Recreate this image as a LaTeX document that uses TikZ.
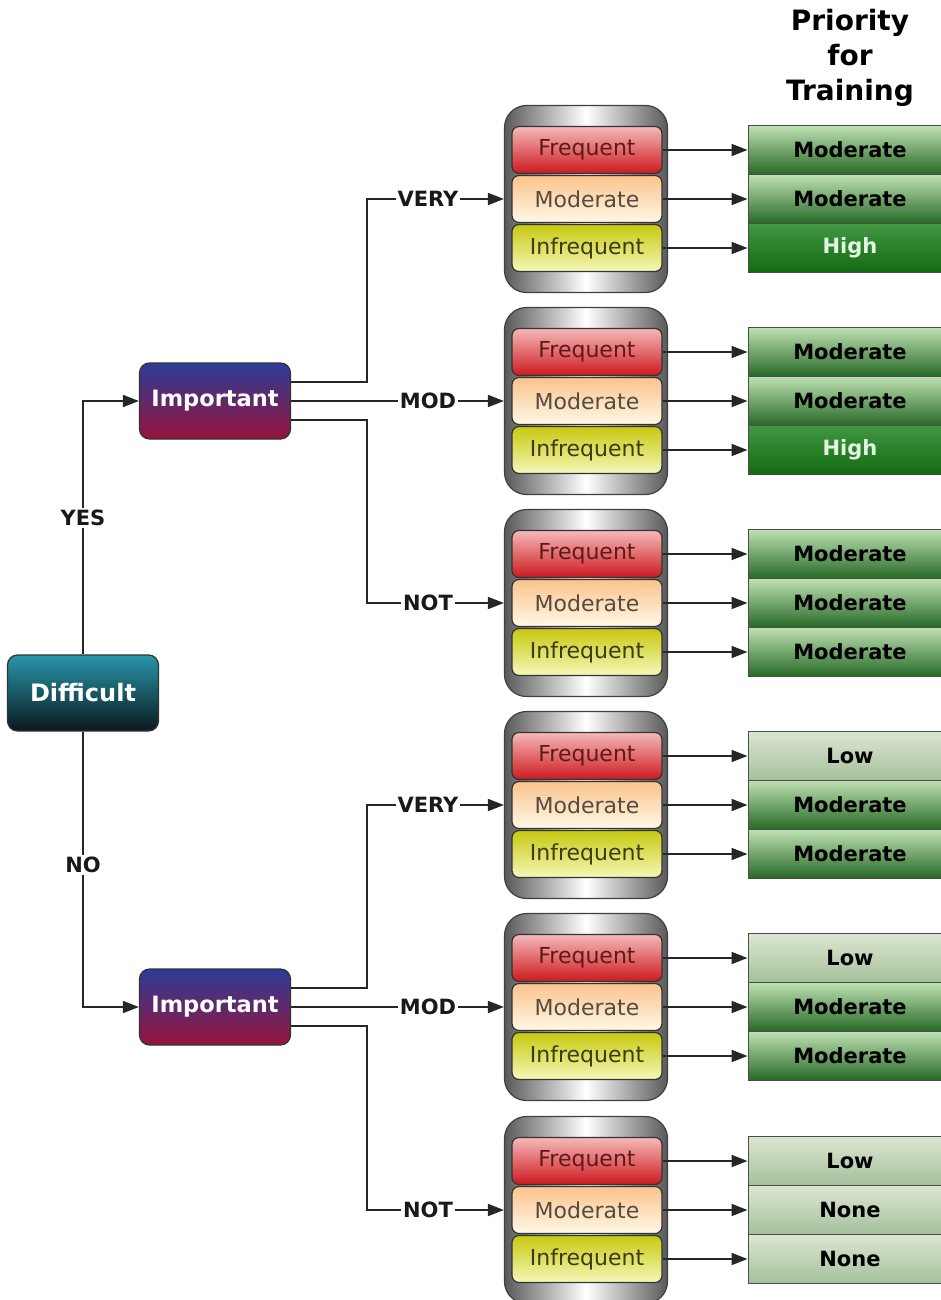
\documentclass[tikz,border=0pt]{standalone}
\usepackage{fontspec}
\setmainfont{DejaVu Sans}
\usetikzlibrary{arrows.meta}
\definecolor{fqTop}{RGB}{245,185,185}
\definecolor{fqBot}{RGB}{205,25,30}
\definecolor{fqTxt}{RGB}{95,25,25}
\definecolor{mdTop}{RGB}{250,195,140}
\definecolor{mdBot}{RGB}{255,248,230}
\definecolor{mdTxt}{RGB}{85,75,65}
\definecolor{ifTop}{RGB}{200,200,15}
\definecolor{ifBot}{RGB}{245,248,185}
\definecolor{ifTxt}{RGB}{60,60,20}
\definecolor{gMTop}{RGB}{190,225,178}
\definecolor{gMBot}{RGB}{38,105,38}
\definecolor{gH}{RGB}{20,125,20}
\definecolor{gHTxt}{RGB}{225,245,225}
\definecolor{gLTop}{RGB}{220,230,210}
\definecolor{gLBot}{RGB}{165,192,155}
\definecolor{dfTop}{RGB}{40,150,170}
\definecolor{dfBot}{RGB}{10,25,30}
\definecolor{imTop}{RGB}{45,60,150}
\definecolor{imBot}{RGB}{150,20,60}
\tikzset{
  conn/.style={draw=black!85, line width=1.8pt},
  arr/.style={conn, -{Triangle[length=16pt,width=12pt]}},
  lab/.style={font=\bfseries\fontsize{21}{24}\selectfont, inner sep=1.5pt, text=black!90},
  big/.style={draw=black!80, line width=1.2pt, rounded corners=10pt, minimum width=151pt, minimum height=76pt, inner sep=0pt, text=white},
  diff/.style={big, top color=dfTop, bottom color=dfBot, font=\bfseries\fontsize{24}{28}\selectfont},
  imp/.style={big, top color=imTop, bottom color=imBot, font=\bfseries\fontsize{22.5}{26}\selectfont},
  outerbox/.style={draw=black!75, line width=1.2pt, rounded corners=22pt, minimum width=163pt, minimum height=187pt, inner sep=0pt, left color=black!65, right color=black!65, middle color=white},
  item/.style={draw=black!80, line width=1.2pt, rounded corners=7pt, minimum width=150pt, minimum height=47pt, inner sep=0pt, font=\fontsize{22}{24}\selectfont},
  freq/.style={item, top color=fqTop, bottom color=fqBot, text=fqTxt},
  mode/.style={item, top color=mdTop, bottom color=mdBot, text=mdTxt},
  infr/.style={item, top color=ifTop, bottom color=ifBot, text=ifTxt},
  res/.style={draw=black!70, line width=1pt, minimum width=204pt, minimum height=49pt, inner sep=0pt, font=\bfseries\fontsize{21}{24}\selectfont},
  resM/.style={res, top color=gMTop, bottom color=gMBot, text=black},
  resH/.style={res, top color=gH!80!white, bottom color=gH!85!black, text=gHTxt},
  resL/.style={res, top color=gLTop, bottom color=gLBot, text=black},
}
\begin{document}
\begin{tikzpicture}[x=1pt,y=-1pt]
\useasboundingbox[fill=white] (0,0) rectangle (941,1300);
\node[font=\bfseries\fontsize{28}{35}\selectfont, align=center] (title) at (850,58) {Priority\\for\\Training};
\node[diff] (dif) at (83,693) {Difficult};
\node[imp] (imp1) at (215,401) {Important};
\node[imp] (imp2) at (215,1007) {Important};
\node[lab] (yes) at (83,518) {YES};
\node[lab] (no) at (83,865) {NO};
\draw[conn] (dif.north) -- (yes.south);
\draw[arr] (yes.north) |- (imp1.west);
\draw[conn] (dif.south) -- (no.north);
\draw[arr] (no.south) |- (imp2.west);
\foreach \g/\yc/\lb/\sa/\ta/\sb/\tb/\sc/\tc in {
  1/199/VERY/resM/Moderate/resM/Moderate/resH/High,
  2/401/MOD/resM/Moderate/resM/Moderate/resH/High,
  3/603/NOT/resM/Moderate/resM/Moderate/resM/Moderate,
  4/805/VERY/resL/Low/resM/Moderate/resM/Moderate,
  5/1007/MOD/resL/Low/resM/Moderate/resM/Moderate,
  6/1210/NOT/resL/Low/resL/None/resL/None}{
  \node[outerbox] (g\g) at (586,\yc) {};
  \node[freq] (f\g) at (587,\yc-49) {Frequent};
  \node[mode] (m\g) at (587,\yc) {Moderate};
  \node[infr] (i\g) at (587,\yc+49) {Infrequent};
  \node[\sa] (ra\g) at (850,\yc-49) {\ta};
  \node[\sb] (rb\g) at (850,\yc) {\tb};
  \node[\sc] (rc\g) at (850,\yc+49) {\tc};
  \node[lab] (L\g) at (428,\yc) {\lb};
  \draw[arr] (L\g.east) -- (g\g.west);
  \draw[arr] (f\g.east) -- (ra\g.west);
  \draw[arr] (m\g.east) -- (rb\g.west);
  \draw[arr] (i\g.east) -- (rc\g.west);
}
\draw[conn] ([yshift=19pt]imp1.east) -- ++(76,0) |- (L1.west);
\draw[conn] (imp1.east) -- (L2.west);
\draw[conn] ([yshift=-19pt]imp1.east) -- ++(76,0) |- (L3.west);
\draw[conn] ([yshift=19pt]imp2.east) -- ++(76,0) |- (L4.west);
\draw[conn] (imp2.east) -- (L5.west);
\draw[conn] ([yshift=-19pt]imp2.east) -- ++(76,0) |- (L6.west);
\end{tikzpicture}
\end{document}
